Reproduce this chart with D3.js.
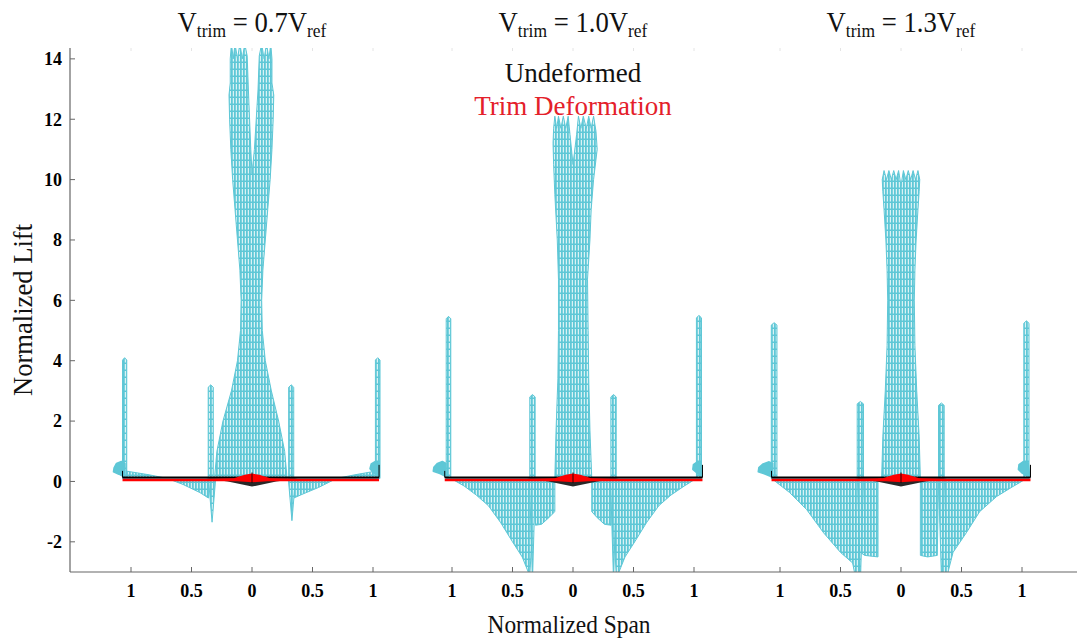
<!DOCTYPE html>
<html><head><meta charset="utf-8">
<script src="https://cdn.jsdelivr.net/npm/d3@7"></script>
<style>body{margin:0;background:#fff}svg{display:block}</style>
</head><body><svg id="chart" width="1077" height="641"></svg>
<script>
// Trim speed of each panel (multiples of V_ref)
const trimCases = ["0.7", "1.0", "1.3"];
const liftTicks = [-2, 0, 2, 4, 6, 8, 10, 12, 14];
const spanTicks = [-1, -0.5, 0, 0.5, 1];
const liftRange = [-3, 14.36];

// Central lift fan outlines, [span, lift]
const fan07 = [[-0.31,0.1],[-0.29,1.0],[-0.24,2.0],[-0.17,3.0],[-0.12,4.0],[-0.095,5.0],[-0.09,6.0],[-0.1,7.0],[-0.12,8.0],[-0.14,9.0],[-0.16,10.0],[-0.175,11.0],[-0.185,12.0],[-0.19,12.8],[-0.18,13.2],[-0.18,14.0],[-0.17,14.5],[-0.155,14.0],[-0.14,14.5],[-0.12,14.0],[-0.1,14.5],[-0.08,14.0],[-0.06,14.5],[-0.04,14.1],[-0.03,13.0],[-0.01,11.0],[0.0,10.2],[0.02,11.0],[0.05,13.0],[0.06,14.1],[0.08,14.5],[0.1,14.0],[0.12,14.5],[0.14,14.0],[0.155,14.5],[0.165,14.0],[0.165,13.2],[0.18,12.8],[0.175,12.0],[0.165,11.0],[0.15,10.0],[0.13,9.0],[0.11,8.0],[0.09,7.0],[0.08,6.0],[0.085,5.0],[0.11,4.0],[0.16,3.0],[0.22,2.0],[0.27,1.0],[0.29,0.1]];
const fan10 = [[-0.15,0.1],[-0.14,1.7],[-0.125,3.4],[-0.12,5.0],[-0.12,6.7],[-0.13,8.0],[-0.15,9.5],[-0.16,10.5],[-0.165,11.2],[-0.16,11.7],[-0.15,12.1],[-0.135,11.7],[-0.12,12.1],[-0.1,11.7],[-0.08,12.1],[-0.06,11.7],[-0.04,12.1],[-0.025,11.5],[0.0,10.5],[0.03,11.5],[0.045,12.1],[0.065,11.7],[0.085,12.1],[0.11,11.7],[0.13,12.1],[0.15,11.7],[0.17,12.1],[0.19,11.6],[0.2,11.0],[0.17,10.0],[0.15,9.0],[0.14,8.0],[0.12,6.7],[0.125,5.0],[0.13,3.4],[0.14,1.7],[0.155,0.1]];
const fan13 = [[-0.16,0.1],[-0.15,1.5],[-0.13,3.0],[-0.115,4.5],[-0.11,6.0],[-0.115,7.0],[-0.125,8.0],[-0.14,9.0],[-0.15,9.6],[-0.155,10.0],[-0.14,10.3],[-0.12,10.0],[-0.1,10.3],[-0.08,10.0],[-0.06,10.3],[-0.04,10.0],[-0.02,10.3],[0,9.8],[0.02,10.3],[0.04,10.0],[0.06,10.3],[0.08,10.0],[0.1,10.3],[0.12,10.0],[0.14,10.3],[0.155,10.0],[0.15,9.6],[0.14,9.0],[0.125,8.0],[0.115,7.0],[0.11,6.0],[0.115,4.5],[0.13,3.0],[0.15,1.5],[0.16,0.1]];

// Wingtip and tail-boom lift spikes: [span from, span to, peak lift]
const tipSpikes07 = [[-1.07,-1.035,4.1],[1.02,1.058,4.1]];
const tipSpikes10 = [[-1.048,-1.01,5.47],[1.02,1.062,5.5]];
const tipSpikes13 = [[-1.072,-1.025,5.26],[1.015,1.058,5.32]];
const boomSpikes07 = [[-0.362,-0.32,3.2],[0.303,0.345,3.2]];
const boomSpikes10 = [[-0.357,-0.313,2.88],[0.313,0.357,2.88]];
const boomSpikes13 = [[-0.362,-0.31,2.65],[0.31,0.357,2.6]];
// Downward boom spikes: [span from, span to, lowest lift]
const boomDips07 = [[-0.36,-0.3,-1.35],[0.3,0.36,-1.3]];
const boomDips10 = [[-0.36,-0.31,-3.3],[0.31,0.36,-3.3]];
const boomDips13 = [[-0.36,-0.31,-3.3],[0.31,0.36,-3.3]];

// Outboard lift regions, [span, lift]
const side07 = [
  [[-1.035,0.1],[-1.035,0.34],[-0.85,0.22],[-0.7,0.1],[-0.57,-0.1],[-0.43,-0.37],[-0.36,-0.55],[-0.36,0.1]],
  [[1.02,0.1],[1.02,0.34],[0.85,0.22],[0.7,0.1],[0.55,-0.2],[0.43,-0.4],[0.345,-0.55],[0.345,0.1]]
];
const side10 = [
  [[-1.01,0.1],[-0.9,-0.15],[-0.8,-0.45],[-0.7,-0.8],[-0.6,-1.35],[-0.5,-2.0],[-0.42,-2.5],[-0.37,-3.0],[-0.36,-3.3],[-0.31,0.1]],
  [[-0.31,0.1],[-0.31,-1.45],[-0.26,-1.42],[-0.2,-1.2],[-0.15,-1.0],[-0.15,0.1]],
  [[0.155,0.1],[0.155,-1.0],[0.2,-1.2],[0.26,-1.42],[0.315,-1.45],[0.315,0.1]],
  [[0.315,0.1],[0.36,-3.3],[0.38,-3.0],[0.43,-2.5],[0.51,-2.0],[0.61,-1.35],[0.71,-0.8],[0.81,-0.45],[0.92,-0.15],[1.02,0.1]]
];
const side13 = [
  [[-1.07,0.1],[-0.92,-0.37],[-0.78,-0.93],[-0.64,-1.7],[-0.5,-2.35],[-0.4,-2.7],[-0.37,-3.3],[-0.345,-3.3],[-0.33,0.1]],
  [[-0.335,0.1],[-0.335,-2.35],[-0.3,-2.45],[-0.19,-2.5],[-0.19,0.1]],
  [[0.16,0.1],[0.16,-2.45],[0.22,-2.5],[0.3,-2.45],[0.31,0.1]],
  [[0.31,0.1],[0.345,-3.3],[0.37,-3.3],[0.43,-2.35],[0.54,-1.7],[0.65,-1.0],[0.79,-0.5],[0.92,-0.18],[1.04,0.1]]
];

// Winglet lift blobs, [span, lift]
const blobs07 = [
  [[-1.05,0.14],[-1.1,0.24],[-1.145,0.32],[-1.14,0.45],[-1.12,0.6],[-1.08,0.66],[-1.05,0.6]],
  [[1.04,0.18],[1.0,0.3],[0.975,0.42],[0.985,0.58],[1.02,0.66],[1.05,0.62],[1.05,0.3]]
];
const blobs10 = [
  [[-1.05,0.16],[-1.1,0.26],[-1.155,0.34],[-1.15,0.47],[-1.12,0.6],[-1.08,0.66],[-1.05,0.6]],
  [[1.06,0.18],[1.02,0.3],[0.99,0.4],[0.995,0.56],[1.03,0.66],[1.06,0.62],[1.06,0.3]]
];
const blobs13 = [
  [[-1.06,0.14],[-1.12,0.24],[-1.18,0.32],[-1.175,0.46],[-1.14,0.58],[-1.09,0.65],[-1.06,0.6]],
  [[1.06,0.16],[1.0,0.28],[0.97,0.4],[0.975,0.56],[1.01,0.66],[1.05,0.64],[1.06,0.3]]
];

// Wing span extent [left tip, right tip]
const wingTips07 = [-1.07, 1.05];
const wingTips10 = [-1.06, 1.07];
const wingTips13 = [-1.07, 1.07];

// Undeformed (black) and trim-deformed (red) centre section, [span, vertical]
const undeformedHeight = 0.13;
const deformedHeight = 0.05;
const undeformedDip = [[-0.38,0.1],[-0.2,0.0],[0,-0.17],[0.2,0.0],[0.38,0.1]];
const deformedBump = [[-0.42,0.07],[-0.15,0.11],[-0.06,0.22],[0,0.26],[0.06,0.22],[0.15,0.11],[0.42,0.07],[0.15,0.02],[0,-0.03],[-0.15,0.02]];

const panels = [
  {trim: trimCases[0], fan: fan07, tips: tipSpikes07, booms: boomSpikes07, dips: boomDips07, sides: side07, blobs: blobs07, wing: wingTips07},
  {trim: trimCases[1], fan: fan10, tips: tipSpikes10, booms: boomSpikes10, dips: boomDips10, sides: side10, blobs: blobs10, wing: wingTips10},
  {trim: trimCases[2], fan: fan13, tips: tipSpikes13, booms: boomSpikes13, dips: boomDips13, sides: side13, blobs: blobs13, wing: wingTips13}
];

// ---- layout ----
const plot = {left: 70, right: 1077, top: 48, bottom: 572};
const panelCenters = [252, 573, 901];
const pxPerSpan = 121;
const cyan = "#5ec7d6";
const serif = "'Liberation Serif','Times New Roman',Times,serif";

const svg = d3.select("#chart");
const defs = svg.append("defs");
// Vertical stem hatching used for the lift areas
const pat = defs.append("pattern").attr("id", "hatch")
  .attr("patternUnits", "userSpaceOnUse").attr("width", 3).attr("height", 7);
pat.append("rect").attr("width", 3).attr("height", 7).attr("fill", cyan);
pat.append("rect").attr("x", 1.8).attr("y", 0).attr("width", 1.1).attr("height", 5.5)
  .attr("fill", "#fff").attr("opacity", 0.85);
defs.append("clipPath").attr("id", "plotClip").append("rect")
  .attr("x", plot.left + 1).attr("y", plot.top).attr("width", plot.right - plot.left)
  .attr("height", plot.bottom - plot.top);

const y = d3.scaleLinear().domain(liftRange).range([plot.bottom, plot.top]);

const marks = svg.append("g").attr("clip-path", "url(#plotClip)");

panels.forEach((p, i) => {
  const c = panelCenters[i];
  const x = d3.scaleLinear().domain([-1, 1]).range([c - pxPerSpan, c + pxPerSpan]);
  const line = d3.line().x(d => x(d[0])).y(d => y(d[1]));
  const poly = pts => line(pts) + "Z";
  const g = marks.append("g");

  const shape = (sel, data) => sel.selectAll(null).data(data).join("path")
    .attr("d", poly).attr("fill", "url(#hatch)")
    .attr("stroke", cyan).attr("stroke-width", 1).attr("stroke-linejoin", "round");

  shape(g, p.sides);
  shape(g, p.dips.map(d => [[d[0], 0.1], [(d[0] + d[1]) / 2, d[2]], [d[1], 0.1]]));
  shape(g, [p.fan]);
  const spike = d => [[d[0], 0.1], [d[0], d[2] - 0.08], [(d[0] + d[1]) / 2, d[2]], [d[1], d[2] - 0.08], [d[1], 0.1]];
  shape(g, p.tips.map(spike));
  shape(g, p.booms.map(spike));
  g.selectAll(null).data(p.blobs).join("path")
    .attr("d", poly).attr("fill", cyan).attr("stroke", cyan).attr("stroke-width", 1.5)
    .attr("stroke-linejoin", "round");

  // Wing: undeformed (black) and trimmed (red)
  g.append("path").attr("d", poly(undeformedDip)).attr("fill", "#111").attr("opacity", 0.9);
  g.append("line")
    .attr("x1", x(p.wing[0])).attr("x2", x(p.wing[1]))
    .attr("y1", y(undeformedHeight)).attr("y2", y(undeformedHeight))
    .attr("stroke", "#000").attr("stroke-width", 2.2);
  g.append("line")
    .attr("x1", x(p.wing[0])).attr("x2", x(p.wing[1]))
    .attr("y1", y(deformedHeight)).attr("y2", y(deformedHeight))
    .attr("stroke", "#f00").attr("stroke-width", 2.4);
  g.append("path").attr("d", poly(deformedBump)).attr("fill", "#f00");
  g.append("line")
    .attr("x1", x(0)).attr("x2", x(0))
    .attr("y1", y(0.3)).attr("y2", y(-0.05))
    .attr("stroke", "#000").attr("stroke-width", 0.8);
  p.wing.forEach((t, k) => g.append("line")
    .attr("x1", x(t)).attr("x2", x(t))
    .attr("y1", y(undeformedHeight)).attr("y2", y(k ? 0.55 : 0.35))
    .attr("stroke", "#000").attr("stroke-width", 1));

  // Span axis ticks and labels for this panel
  const ax = svg.append("g");
  ax.selectAll(null).data(spanTicks).join("line")
    .attr("x1", d => x(d)).attr("x2", d => x(d))
    .attr("y1", plot.bottom).attr("y2", plot.bottom - 5)
    .attr("stroke", "#666").attr("stroke-width", 1);
  ax.selectAll(null).data(spanTicks).join("line")
    .attr("x1", d => x(d)).attr("x2", d => x(d))
    .attr("y1", plot.top).attr("y2", plot.top + 3)
    .attr("stroke", "#e4e4e4").attr("stroke-width", 1);
  ax.selectAll(null).data(spanTicks).join("text")
    .attr("x", d => x(d)).attr("y", plot.bottom + 25)
    .attr("text-anchor", "middle")
    .attr("font-family", serif).attr("font-weight", "bold").attr("font-size", 18)
    .text(d => d3.format("")(Math.abs(d)));

  // Panel title: V_trim = kV_ref
  const t = svg.append("text")
    .attr("transform", `translate(${c},32) scale(0.92,1)`).attr("text-anchor", "middle")
    .attr("font-family", serif).attr("font-size", 29).attr("fill", "#111");
  t.append("tspan").text("V");
  t.append("tspan").attr("font-size", 19).attr("dy", 5).text("trim");
  t.append("tspan").attr("dy", -5).text(" = " + p.trim + "V");
  t.append("tspan").attr("font-size", 19).attr("dy", 5).text("ref");
});

// Lift axis
const yAxis = svg.append("g");
yAxis.append("line")
  .attr("x1", plot.left).attr("x2", plot.left)
  .attr("y1", plot.top).attr("y2", plot.bottom)
  .attr("stroke", "#666").attr("stroke-width", 1.2);
yAxis.append("line")
  .attr("x1", plot.left).attr("x2", plot.right)
  .attr("y1", plot.bottom).attr("y2", plot.bottom)
  .attr("stroke", "#666").attr("stroke-width", 1.2);
yAxis.selectAll(null).data(liftTicks).join("line")
  .attr("x1", plot.left).attr("x2", plot.left + 5)
  .attr("y1", d => y(d)).attr("y2", d => y(d))
  .attr("stroke", "#666");
yAxis.selectAll(null).data(liftTicks).join("text")
  .attr("x", plot.left - 8).attr("y", d => y(d)).attr("dy", "0.35em")
  .attr("text-anchor", "end")
  .attr("font-family", serif).attr("font-weight", "bold").attr("font-size", 18)
  .text(d => d);

// Axis titles
svg.append("text")
  .attr("transform", "translate(32,310) rotate(-90) scale(0.95,1)")
  .attr("text-anchor", "middle")
  .attr("font-family", serif).attr("font-size", 28).attr("fill", "#111")
  .text("Normalized Lift");
svg.append("text")
  .attr("transform", "translate(569,633) scale(0.9,1)")
  .attr("text-anchor", "middle")
  .attr("font-family", serif).attr("font-size", 26).attr("fill", "#111")
  .text("Normalized Span");

// Legend
svg.append("text")
  .attr("x", 573).attr("y", 82).attr("text-anchor", "middle")
  .attr("font-family", serif).attr("font-size", 27).attr("fill", "#111")
  .text("Undeformed");
svg.append("text")
  .attr("x", 573).attr("y", 115).attr("text-anchor", "middle")
  .attr("font-family", serif).attr("font-size", 27).attr("fill", "#e4202a")
  .text("Trim Deformation");
</script></body></html>
